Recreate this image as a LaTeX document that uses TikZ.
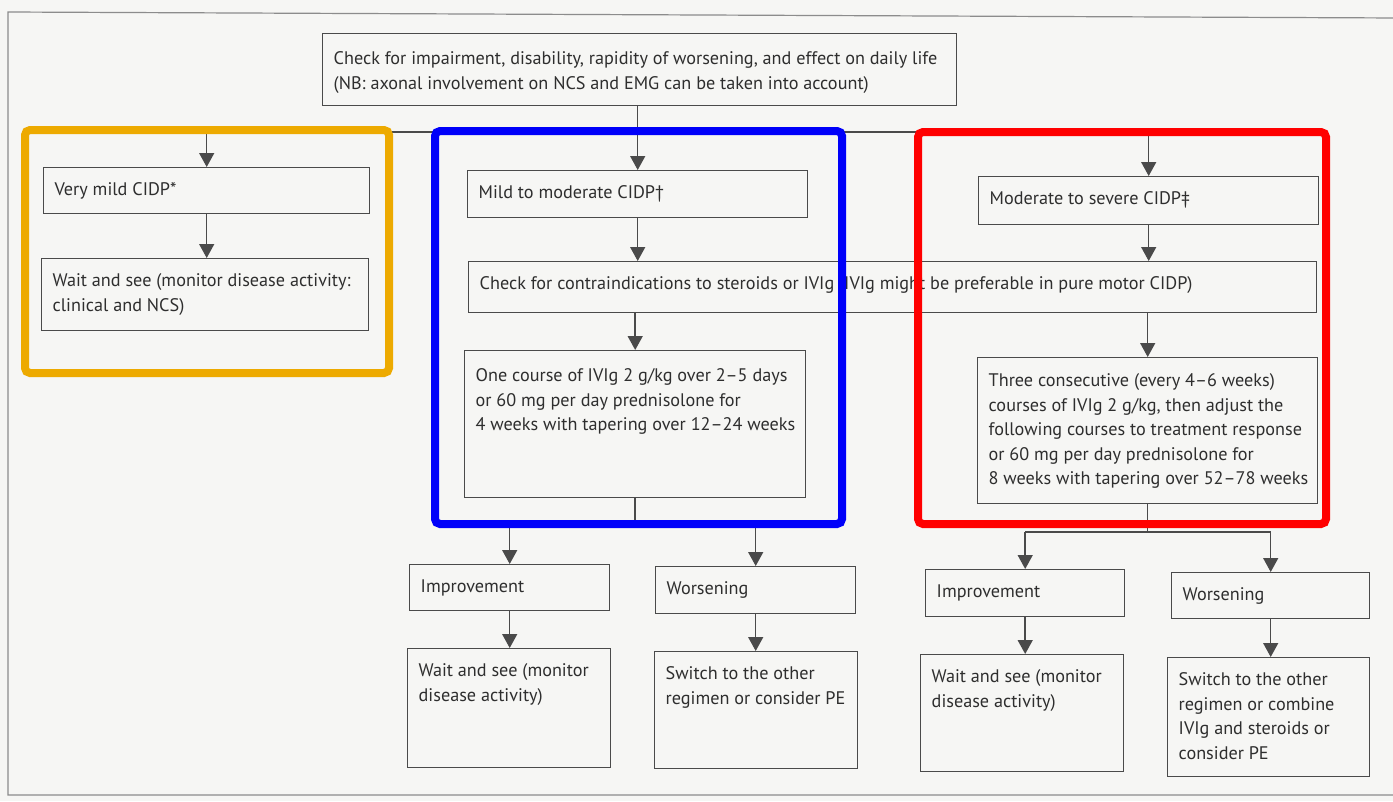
\documentclass[tikz,border=0pt]{standalone}
\usepackage{fontspec}
\setmainfont{PT Sans}
\usetikzlibrary{arrows.meta}
\definecolor{ln}{HTML}{4A4A4A}
\definecolor{txt}{HTML}{2E2E2E}
\definecolor{bg}{HTML}{F6F6F4}
\definecolor{framec}{HTML}{8C8C8C}
\definecolor{orangef}{RGB}{237,170,0}
\definecolor{bluef}{RGB}{0,0,250}
\definecolor{redf}{RGB}{255,0,0}
\newcommand{\bt}[4][28]{\begin{minipage}[t][#3pt][t]{#2pt}\raggedright\leftskip=11pt\hyphenpenalty=10000\rule{0pt}{#1pt}#4\end{minipage}}
\begin{document}
\begin{tikzpicture}[x=1pt,y=-1pt,
  font=\fontsize{18.2}{24.5}\selectfont,
  box/.style={draw=ln, text=txt, line width=1.4pt, inner sep=0pt, anchor=north west},
  wire/.style={draw=ln, line width=1.5pt},
  arr/.style={draw=ln, line width=1.5pt, -{Triangle[length=14pt,width=15pt]}},
  hl/.style={line width=8pt, rounded corners=5pt}]
\clip (0,0) rectangle (1393,801);
\fill[bg] (0,0) rectangle (1393,801);
\draw[framec, line width=1.2pt] (1400,18) -- (8,12) -- (8,795) -- (1400,795);

% boxes
\node[box] (top) at (322,33) {\bt[31]{634}{72}{\mbox{Check for impairment, disability, rapidity of worsening, and effect on daily life}\\\mbox{(NB: axonal involvement on NCS and EMG can be taken into account)}}};
\node[box] (vmild) at (43,167) {\bt{326}{46}{\mbox{Very mild CIDP*}}};
\node[box] (vwait) at (41,258) {\bt{327}{72}{\mbox{Wait and see (monitor disease activity:}\\\mbox{clinical and NCS)}}};
\node[box] (mild) at (467,170) {\bt{340}{47}{\mbox{Mild to moderate CIDP†}}};
\node[box] (mod) at (978,176) {\bt{340}{48}{\mbox{Moderate to severe CIDP‡}}};
\node[box] (check) at (468,261) {\bt{848}{51}{\mbox{Check for contraindications to steroids or IVIg (IVIg might be preferable in pure motor CIDP)}}};
\node[box] (one) at (464,350) {\bt[31]{341}{147}{\mbox{One course of IVIg 2 g/kg over 2–5 days}\\\mbox{or 60 mg per day prednisolone for}\\\mbox{4 weeks with tapering over 12–24 weeks}}};
\node[box] (three) at (977,357) {\bt[29]{340}{146}{\mbox{Three consecutive (every 4–6 weeks)}\\\mbox{courses of IVIg 2 g/kg, then adjust the}\\\mbox{following courses to treatment response}\\\mbox{or 60 mg per day prednisolone for}\\\mbox{8 weeks with tapering over 52–78 weeks}}};
\node[box] (impL) at (409,564) {\bt{200}{46}{\mbox{Improvement}}};
\node[box] (worL) at (655,566) {\bt{200}{47}{\mbox{Worsening}}};
\node[box] (waitL) at (407,648) {\bt{203}{119}{\mbox{Wait and see (monitor}\\\mbox{disease activity)}}};
\node[box] (swL) at (654,651) {\bt{203}{117}{\mbox{Switch to the other}\\\mbox{regimen or consider PE}}};
\node[box] (impR) at (925,569) {\bt{199}{47}{\mbox{Improvement}}};
\node[box] (worR) at (1171,572) {\bt{198}{46}{\mbox{Worsening}}};
\node[box] (waitR) at (920,654) {\bt{203}{117}{\mbox{Wait and see (monitor}\\\mbox{disease activity)}}};
\node[box] (swR) at (1167,657) {\bt{202}{119}{\mbox{Switch to the other}\\\mbox{regimen or combine}\\\mbox{IVIg and steroids or}\\\mbox{consider PE}}};

% connectors
\coordinate (yt) at (0,132);
\coordinate (yl) at (0,525);
\coordinate (yr) at (0,532);
\draw[wire] (top.south -| mild.north) -- (mild.north |- yt);
\draw[wire] (vmild.north |- yt) -- (mod.north |- yt);
\draw[arr] (mild.north |- yt) -- (mild.north);
\draw[arr] (vmild.north |- yt) -- (vmild.north);
\draw[arr] (mod.north |- yt) -- (mod.north);
\draw[arr] (vmild.south) -- (vmild.south |- vwait.north);
\draw[arr] (mild.south) -- (mild.south |- check.north);
\draw[arr] (mod.south) -- (mod.south |- check.north);
\draw[arr] (check.south -| one.north) -- (one.north);
\draw[arr] (check.south -| three.north) -- (three.north);
\draw[wire] (one.south) -- (one.south |- yl);
\draw[wire] (impL.north |- yl) -- (worL.north |- yl);
\draw[arr] (impL.north |- yl) -- (impL.north);
\draw[arr] (worL.north |- yl) -- (worL.north);
\draw[wire] (three.south) -- (three.south |- yr);
\draw[wire] (impR.north |- yr) -- (worR.north |- yr);
\draw[arr] (impR.north |- yr) -- (impR.north);
\draw[arr] (worR.north |- yr) -- (worR.north);
\draw[arr] (impL.south) -- (impL.south |- waitL.north);
\draw[arr] (worL.south) -- (worL.south |- swL.north);
\draw[arr] (impR.south) -- (impR.south |- waitR.north);
\draw[arr] (worR.south) -- (worR.south |- swR.north);

% highlight frames
\draw[hl, orangef] (25,130) rectangle (389,373);
\draw[hl, bluef] (435,131) rectangle (842,524);
\draw[hl, redf] (918,132) rectangle (1326,524);
\end{tikzpicture}
\end{document}
